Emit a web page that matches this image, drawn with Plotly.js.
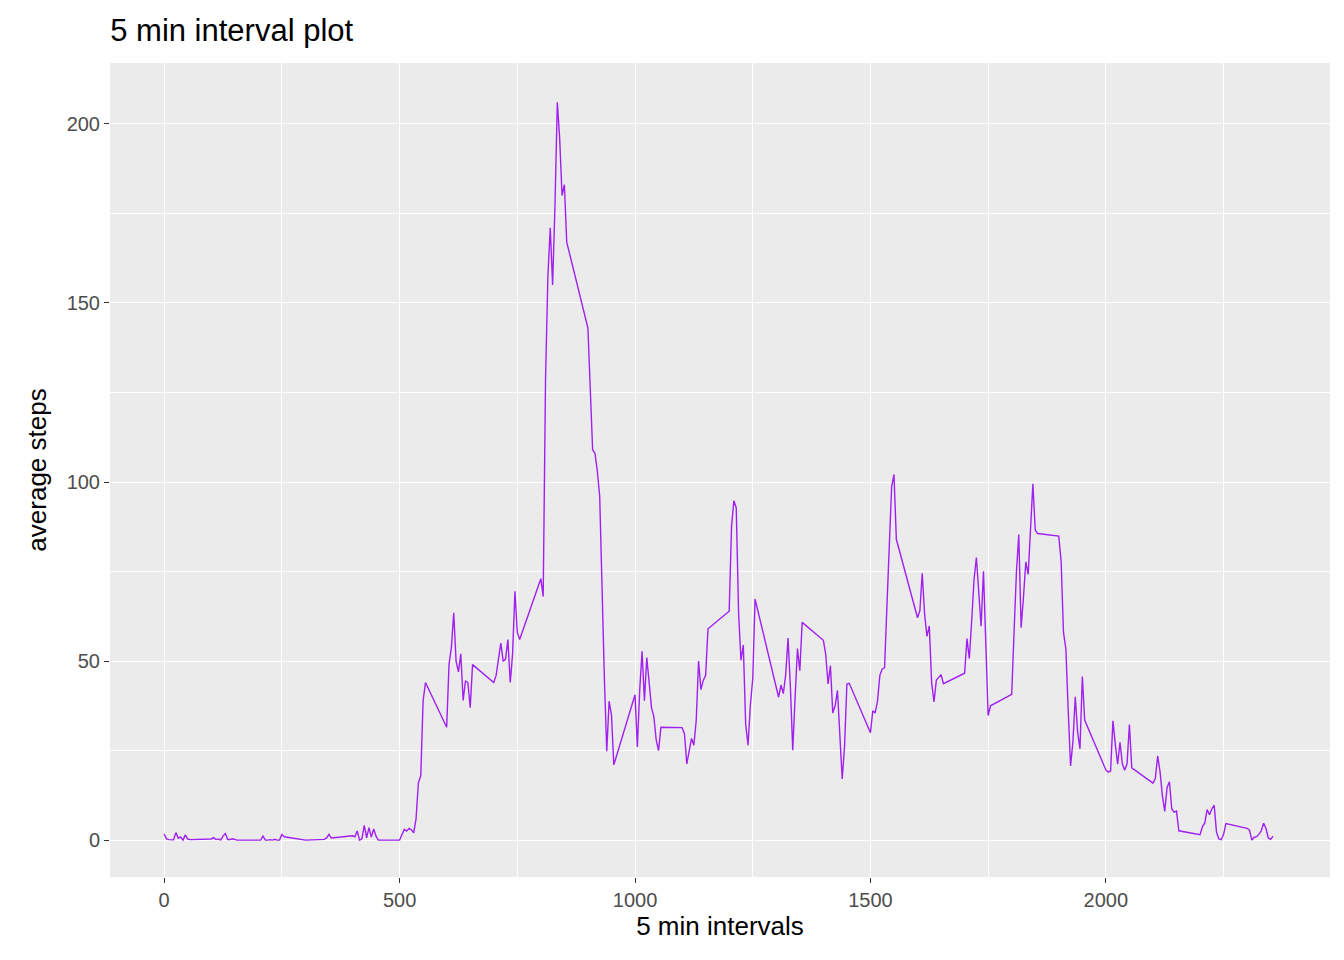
<!DOCTYPE html>
<html><head><meta charset="utf-8">
<script src="https://cdn.plot.ly/plotly-3.0.1.min.js"></script>
<style>body{margin:0}</style></head>
<body><div id="chart" style="width:1344px;height:960px"></div>
<script>
// average steps per 5-min interval; one row per hour (minutes 00..55)
const minutes = [0,5,10,15,20,25,30,35,40,45,50,55];
const stepsByHour = [
 [1.72,0.34,0.13,0.15,0.08,2.09,0.53,0.87,0,1.47,0.30,0.13],
 [0.32,0.68,0.15,0.34,0,1.11,1.83,0.17,0.17,0.38,0.26,0],
 [0,0,1.13,0,0,0.13,0,0.23,0,0,1.55,0.94],
 [0,0,0,0,0,0,0,0,0.21,0.62,1.62,0.58],
 [1.2,0.94,2.57,0,0.34,4.11,0.66,3.49,0.83,3.11,1.11,0],
 [0,1.5,3,2.5,3.3,2.9,2,6,16,18,39,44],
 [31.5,49,53.8,63.5,50,47,52,39,44.5,44,37,49],
 [44,46,51,55,50,50.5,56,44,52,69.5,58,56],
 [73,68,129,157.5,171,155,177,206,196,180,183,167],
 [143,124,109,108,103,96,66,45,24.8,38.8,35,21],
 [40.6,26,42,52.7,38.9,51,44,37,34.5,28,25,31.5],
 [31.4,29.7,21.3,25.5,28.4,26.5,33.4,50,42,44.6,46,59],
 [63.9,87.6,94.8,92.8,63.4,50.2,54.5,32.4,26.5,37.7,45,67.3],
 [42.3,39.9,43.3,40.9,46.2,56.4,42.8,25.1,39.9,53.5,47.3,60.8],
 [55.8,51.9,43.6,48.7,35.5,37.5,41.8,27.5,17.1,26.1,43.6,43.8],
 [30,36.1,35.5,38.8,46,47.8,48.1,65.3,82.9,98.7,102.1,84],
 [62.1,64.1,74.5,63.2,56.9,59.8,43.9,38.6,44.7,45.5,46.2,43.7],
 [46.6,56.3,50.7,61.2,72.7,78.9,68.9,59.7,75.1,56.5,34.8,37.5],
 [40.7,58,74.7,85.3,59.3,67.8,77.7,74.2,85.3,99.5,86.6,85.6],
 [84.9,77.8,58,53.4,36.3,20.7,27.4,40,30.2,25.5,45.7,33.5],
 [19.6,19,19.3,33.3,26.8,21.2,27.3,21.3,19.5,21.3,32.3,20.2],
 [15.9,17.2,23.5,19.2,12.5,8,14.7,16.3,8.7,7.8,8.1,2.6],
 [1.5,3.7,4.8,8.5,7.1,8.7,9.75,2.2,0.3,0.1,1.6,4.6],
 [3.3,2.8,0,0.8,0.96,1.6,2.6,4.7,3.3,0.6,0.2,1.1]
];
const interval = [], steps = [];
stepsByHour.forEach((row,h)=>row.forEach((v,i)=>{interval.push(h*100+minutes[i]); steps.push(v);}));
const xTicks = [0,500,1000,1500,2000];
const yTicks = [0,50,100,150,200];

const F = 'Liberation Sans, Arial';
const axisCommon = {
  showgrid:true, gridcolor:'#ffffff', gridwidth:1.4, zeroline:false,
  ticks:'outside', ticklen:5, tickcolor:'#333333', tickwidth:1,
  tickfont:{family:F, size:20, color:'#4d4d4d'},
  showline:false
};
Plotly.newPlot('chart',[{
  x:interval, y:steps, type:'scatter', mode:'lines',
  line:{color:'#a020f0', width:1.4}
}],{
  width:1344, height:960,
  paper_bgcolor:'#ffffff', plot_bgcolor:'#ebebeb',
  margin:{l:110,r:14,t:63,b:83},
  showlegend:false,
  title:{text:'5 min interval plot', x:0.082, xanchor:'left', y:0.969, yanchor:'middle',
    font:{family:F, size:31, color:'#000'}},
  xaxis:Object.assign({}, axisCommon, {range:[-115,2476], tickvals:xTicks, ticktext:xTicks.map(String),
    minor:{dtick:250, tick0:250, showgrid:true, gridcolor:'#ffffff', gridwidth:0.7, ticks:''},
    title:{text:'5 min intervals', standoff:6, font:{family:F, size:26, color:'#000'}}}),
  yaxis:Object.assign({}, axisCommon, {range:[-10.3,217], tickvals:yTicks, ticktext:yTicks.map(String),
    minor:{dtick:50, tick0:25, showgrid:true, gridcolor:'#ffffff', gridwidth:0.7, ticks:''},
    title:{text:'average steps', standoff:12, font:{family:F, size:26, color:'#000'}}})
},{displayModeBar:false});
</script></body></html>
